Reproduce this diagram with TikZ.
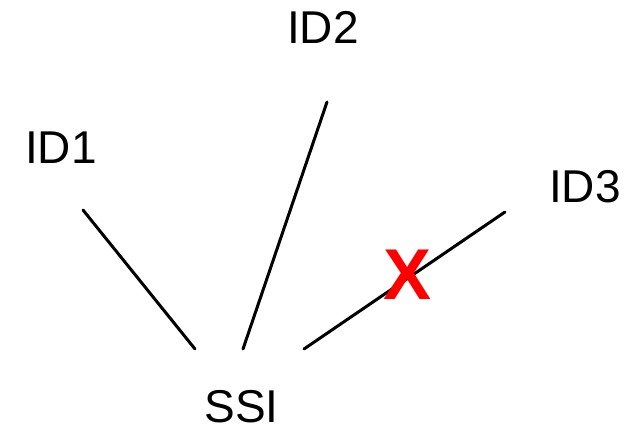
\documentclass[tikz,border=0pt]{standalone}
\usepackage{fontspec}
\setmainfont{Liberation Sans}
\usetikzlibrary{positioning}

\begin{document}
\begin{tikzpicture}[x=0.5pt,y=-0.5pt,
  idnode/.style={inner sep=0pt,font=\fontsize{23}{27}\selectfont},
  link/.style={line width=1.5pt,line cap=round},
  cross/.style={inner sep=0pt,text=red,font=\fontsize{36}{40}\selectfont\bfseries}
]
\useasboundingbox (0,0) rectangle (639,429);

% the identities and the wallet
\node[idnode] (id1) at (61,148) {ID1};
\node[idnode] (id2) at (323,27) {ID2};
\node[idnode] (id3) at (585,187) {ID3};
\node[idnode] (ssi) at (241.5,407) {SSI};

% ends of the links
\coordinate (t1) at (83,210);
\coordinate (t2) at (327,102);
\coordinate (t3) at (505,212);
\coordinate (s1) at (195,349);
\coordinate (s2) at (243,349);
\coordinate (s3) at (304,349);

% the links
\draw[link] (t1) -- (s1);
\draw[link] (t2) -- (s2);
\draw[link] (t3) -- (s3);

% the broken one
\node[cross] (cut) at (408,275) {X};
\end{tikzpicture}
\end{document}
